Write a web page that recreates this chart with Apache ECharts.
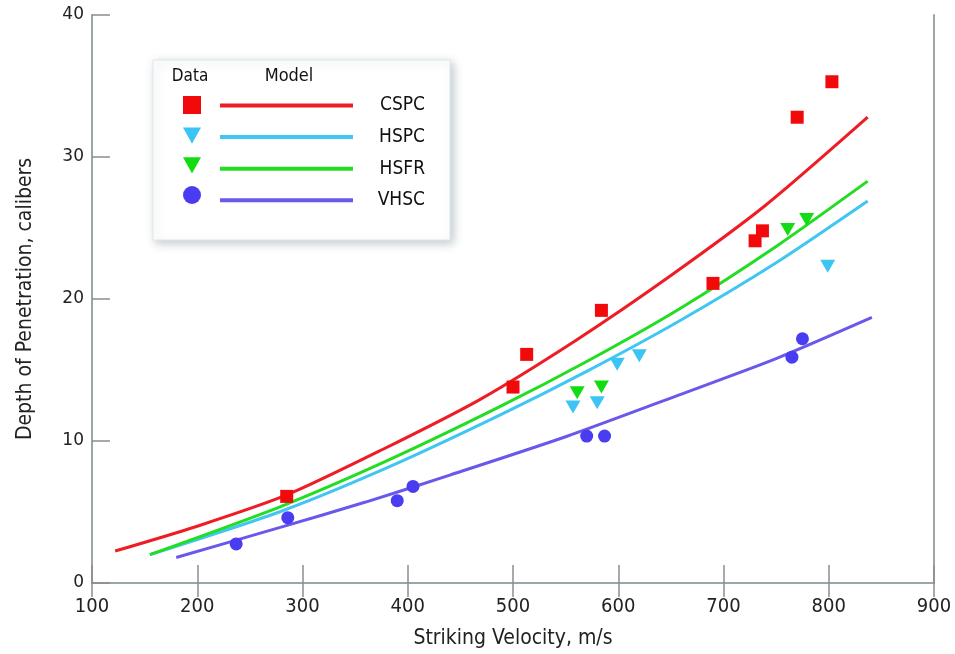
<!DOCTYPE html>
<html>
<head>
<meta charset="utf-8">
<script src="https://cdn.jsdelivr.net/npm/echarts@6/dist/echarts.min.js"></script>
<style>html,body{margin:0;padding:0;background:#fff}#c{width:955px;height:654px}</style>
</head>
<body>
<div id="c"></div>
<script>
// ---- data ----
const seriesNames = ['CSPC', 'HSPC', 'HSFR', 'VHSC'];
const xTicks = [100, 200, 300, 400, 500, 600, 700, 800, 900];
const yTicks = [0, 10, 20, 30, 40];

// measured data points [velocity m/s, depth calibers]
const cspcData = [[285, 6.1], [500, 13.8], [513, 16.1], [584, 19.2], [690, 21.1], [730, 24.1], [737, 24.8], [770, 32.8], [803, 35.3]];
const hspcData = [[557, 12.4], [580, 12.7], [599, 15.4], [620, 16.0], [799, 22.3]];
const hsfrData = [[561, 13.4], [584, 13.8], [761, 24.9], [779, 25.6]];
const vhscData = [[237, 2.75], [286, 4.6], [390, 5.8], [405, 6.8], [570, 10.35], [587, 10.35], [765, 15.9], [775, 17.2]];

// model curves, points
const cspcModel = [[122, 2.25], [200, 4.0], [285, 6.2], [376, 9.4], [468, 12.9], [560, 17.1], [649, 21.6], [740, 26.6], [837, 32.8]];
const hspcModel = [[155, 2.0], [278, 5.0], [380, 8.1], [487, 11.8], [570, 14.9], [658, 18.45], [750, 22.55], [837, 26.9]];
const hsfrModel = [[155, 2.0], [278, 5.35], [380, 8.6], [487, 12.4], [570, 15.6], [658, 19.3], [750, 23.7], [837, 28.3]];
const vhscModel = [[180, 1.8], [278, 3.9], [360, 5.7], [440, 7.6], [550, 10.3], [658, 13.25], [750, 15.8], [841, 18.7]];

const colors = { CSPC: '#ee1c24', HSPC: '#3fc6f2', HSFR: '#22dd22', VHSC: '#6a58ec' };
const markerColors = { CSPC: '#f20a0a', HSPC: '#3cc4f4', HSFR: '#12dd12', VHSC: '#4a3cf0' };

const downTri = 'path://M0,0 L10,0 L5,9 Z';
const font = "'Liberation Sans Narrow','DejaVu Sans Condensed','Liberation Sans',sans-serif";

const dataSets = { CSPC: cspcData, HSPC: hspcData, HSFR: hsfrData, VHSC: vhscData };
const modelSets = { CSPC: cspcModel, HSPC: hspcModel, HSFR: hsfrModel, VHSC: vhscModel };
const symbols = { CSPC: 'rect', HSPC: downTri, HSFR: downTri, VHSC: 'circle' };
const symbolSizes = { CSPC: 13, HSPC: [15, 13], HSFR: [15, 13], VHSC: 13 };

const series = [];
seriesNames.forEach(n => {
  series.push({
    name: n, type: 'line', data: modelSets[n], smooth: 0.25, showSymbol: false, symbol: 'none',
    lineStyle: { color: colors[n], width: 3 }, itemStyle: { color: colors[n] }, z: 2, silent: true
  });
});
seriesNames.forEach(n => {
  series.push({
    name: n + ' data', type: 'scatter', data: dataSets[n], symbol: symbols[n], symbolSize: symbolSizes[n],
    itemStyle: { color: markerColors[n], opacity: 1 }, z: 3
  });
});

const axisGray = '#9aa6a9';
const tickGray = '#8a8f90';

const option = {
  animation: false,
  backgroundColor: '#ffffff',
  grid: { left: 92, right: 21, top: 15, bottom: 71 },
  xAxis: [{
    type: 'value', min: xTicks[0], max: xTicks[xTicks.length - 1], interval: 100,
    name: 'Striking Velocity, m/s', nameLocation: 'middle', nameGap: 45,
    nameTextStyle: { fontFamily: font, fontSize: 21, color: '#222' },
    axisLine: { show: true, lineStyle: { color: axisGray, width: 2 } },
    axisTick: { show: true, inside: true, length: 18, lineStyle: { color: tickGray, width: 1.5 } },
    axisLabel: { fontFamily: font, fontSize: 20, color: '#222', margin: 14 },
    splitLine: { show: false }
  }, {
    type: 'value', position: 'top', min: xTicks[0], max: xTicks[xTicks.length - 1], interval: 100,
    axisLine: { show: true, lineStyle: { color: axisGray, width: 2 } },
    axisTick: { show: true, inside: true, length: 14, lineStyle: { color: tickGray, width: 1.5 } },
    axisLabel: { show: false }, splitLine: { show: false }
  }],
  yAxis: [{
    type: 'value', min: yTicks[0], max: yTicks[yTicks.length - 1], interval: 10,
    name: 'Depth of Penetration, calibers', nameLocation: 'middle', nameGap: 56,
    nameTextStyle: { fontFamily: font, fontSize: 21, color: '#222' },
    axisLine: { show: true, lineStyle: { color: axisGray, width: 2 } },
    axisTick: { show: true, inside: true, length: 18, lineStyle: { color: tickGray, width: 1.5 } },
    axisLabel: { fontFamily: "'DejaVu Sans',sans-serif", fontSize: 17, color: '#222', margin: 8 },
    splitLine: { show: false }
  }, {
    type: 'value', position: 'right', min: yTicks[0], max: yTicks[yTicks.length - 1], interval: 10,
    axisLine: { show: true, lineStyle: { color: axisGray, width: 2 } },
    axisTick: { show: false }, axisLabel: { show: false }, splitLine: { show: false }
  }],
  legend: [{
    orient: 'vertical', left: 183, top: 96, padding: 0, itemWidth: 18, itemHeight: 18, itemGap: 12.6,
    data: seriesNames.map(n => n + ' data'), formatter: () => '', selectedMode: false,
    textStyle: { fontSize: 1 }
  }, {
    orient: 'vertical', left: 220, top: 96, padding: 0, itemWidth: 133, itemHeight: 4, itemGap: 12.6,
    icon: 'rect', data: seriesNames, selectedMode: false,
    formatter: n => '{a|' + n + '}',
    textStyle: { fontFamily: font, fontSize: 19, color: '#111',
      rich: { a: { width: 67, height: 18, align: 'right', fontFamily: font, fontSize: 19, color: '#111' } } }
  }],
  graphic: [
    { type: 'rect', z: 1, shape: { x: 153, y: 60, width: 297, height: 180 },
      style: { fill: '#fff', stroke: '#e2e7ea', lineWidth: 1, shadowBlur: 9, shadowOffsetX: 3, shadowOffsetY: 3, shadowColor: 'rgba(100,125,140,0.4)' } },
    { type: 'text', z: 5, style: { text: 'Data', x: 190, y: 77, align: 'center', verticalAlign: 'middle', font: "17px " + font, fill: '#111' } },
    { type: 'text', z: 5, style: { text: 'Model', x: 289, y: 76, align: 'center', verticalAlign: 'middle', font: "18px " + font, fill: '#111' } }
  ],
  series: series
};

const chart = echarts.init(document.getElementById('c'), null, { renderer: 'canvas' });
chart.setOption(option);
</script>
</body>
</html>
